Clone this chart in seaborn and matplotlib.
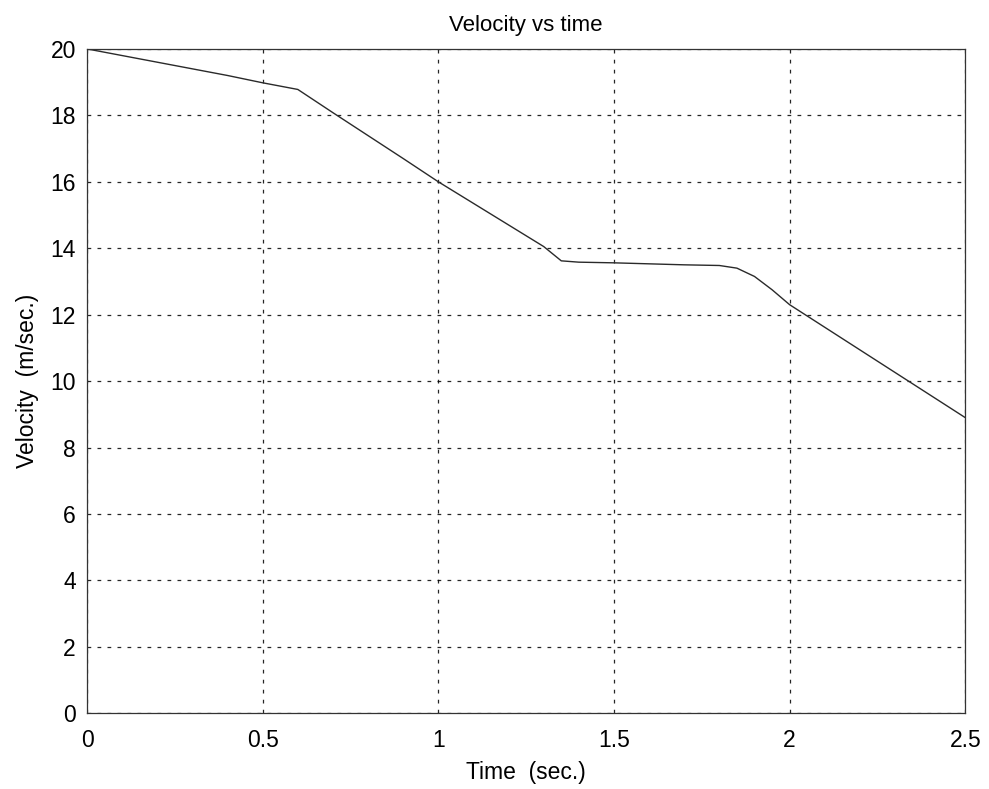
import matplotlib
matplotlib.use("Agg")
import matplotlib.pyplot as plt
import seaborn as sns
import pandas as pd

time_s = [0.0, 0.1, 0.2, 0.3, 0.4, 0.5, 0.6, 0.7, 0.8, 0.9, 1.0, 1.1, 1.2, 1.3,
          1.35, 1.4, 1.5, 1.6, 1.7, 1.8, 1.85, 1.9, 1.95, 2.0, 2.1, 2.2, 2.3, 2.4, 2.5]
velocity = [20.0, 19.8, 19.6, 19.4, 19.2, 18.98, 18.78, 18.08, 17.39, 16.7, 16.0,
            15.35, 14.7, 14.05, 13.62, 13.58, 13.56, 13.53, 13.5, 13.48, 13.4, 13.15,
            12.75, 12.3, 11.62, 10.94, 10.26, 9.58, 8.9]
x_ticks = [0, 0.5, 1, 1.5, 2, 2.5]
y_ticks = [0, 2, 4, 6, 8, 10, 12, 14, 16, 18, 20]

sns.set_theme(style="white")
plt.rcParams['font.family'] = ['Liberation Sans', 'DejaVu Sans']

df = pd.DataFrame({"t": time_s, "v": velocity})

fig = plt.figure(figsize=(9.89, 7.89), dpi=100)
ax = fig.add_axes([0.088, 0.096, 0.888, 0.842])
sns.lineplot(data=df, x="t", y="v", ax=ax, color="#2a2a2a", linewidth=1.0)

ax.set_xlim(0, 2.5)
ax.set_ylim(0, 20)
ax.set_xticks(x_ticks)
ax.set_xticklabels([f"{v:g}" for v in x_ticks])
ax.set_yticks(y_ticks)
ax.set_yticklabels([str(v) for v in y_ticks])
ax.grid(True, linestyle=(0, (3, 5)), color="black", linewidth=0.9, alpha=0.85)
for s in ax.spines.values():
    s.set_visible(True)
    s.set_color("#333333")
    s.set_linewidth(0.9)
ax.tick_params(direction="in", length=4, labelsize=16.5, colors="black")
ax.tick_params(axis="x", pad=11)
ax.tick_params(axis="y", pad=8)
ax.set_xlabel("Time  (sec.)", fontsize=16.5, labelpad=7, color="black")
ax.set_ylabel("Velocity  (m/sec.)", fontsize=16.5, labelpad=8, color="black")
ax.set_title("Velocity vs time", fontsize=16, pad=13, color="black")

fig.savefig("out.png", dpi=100)
